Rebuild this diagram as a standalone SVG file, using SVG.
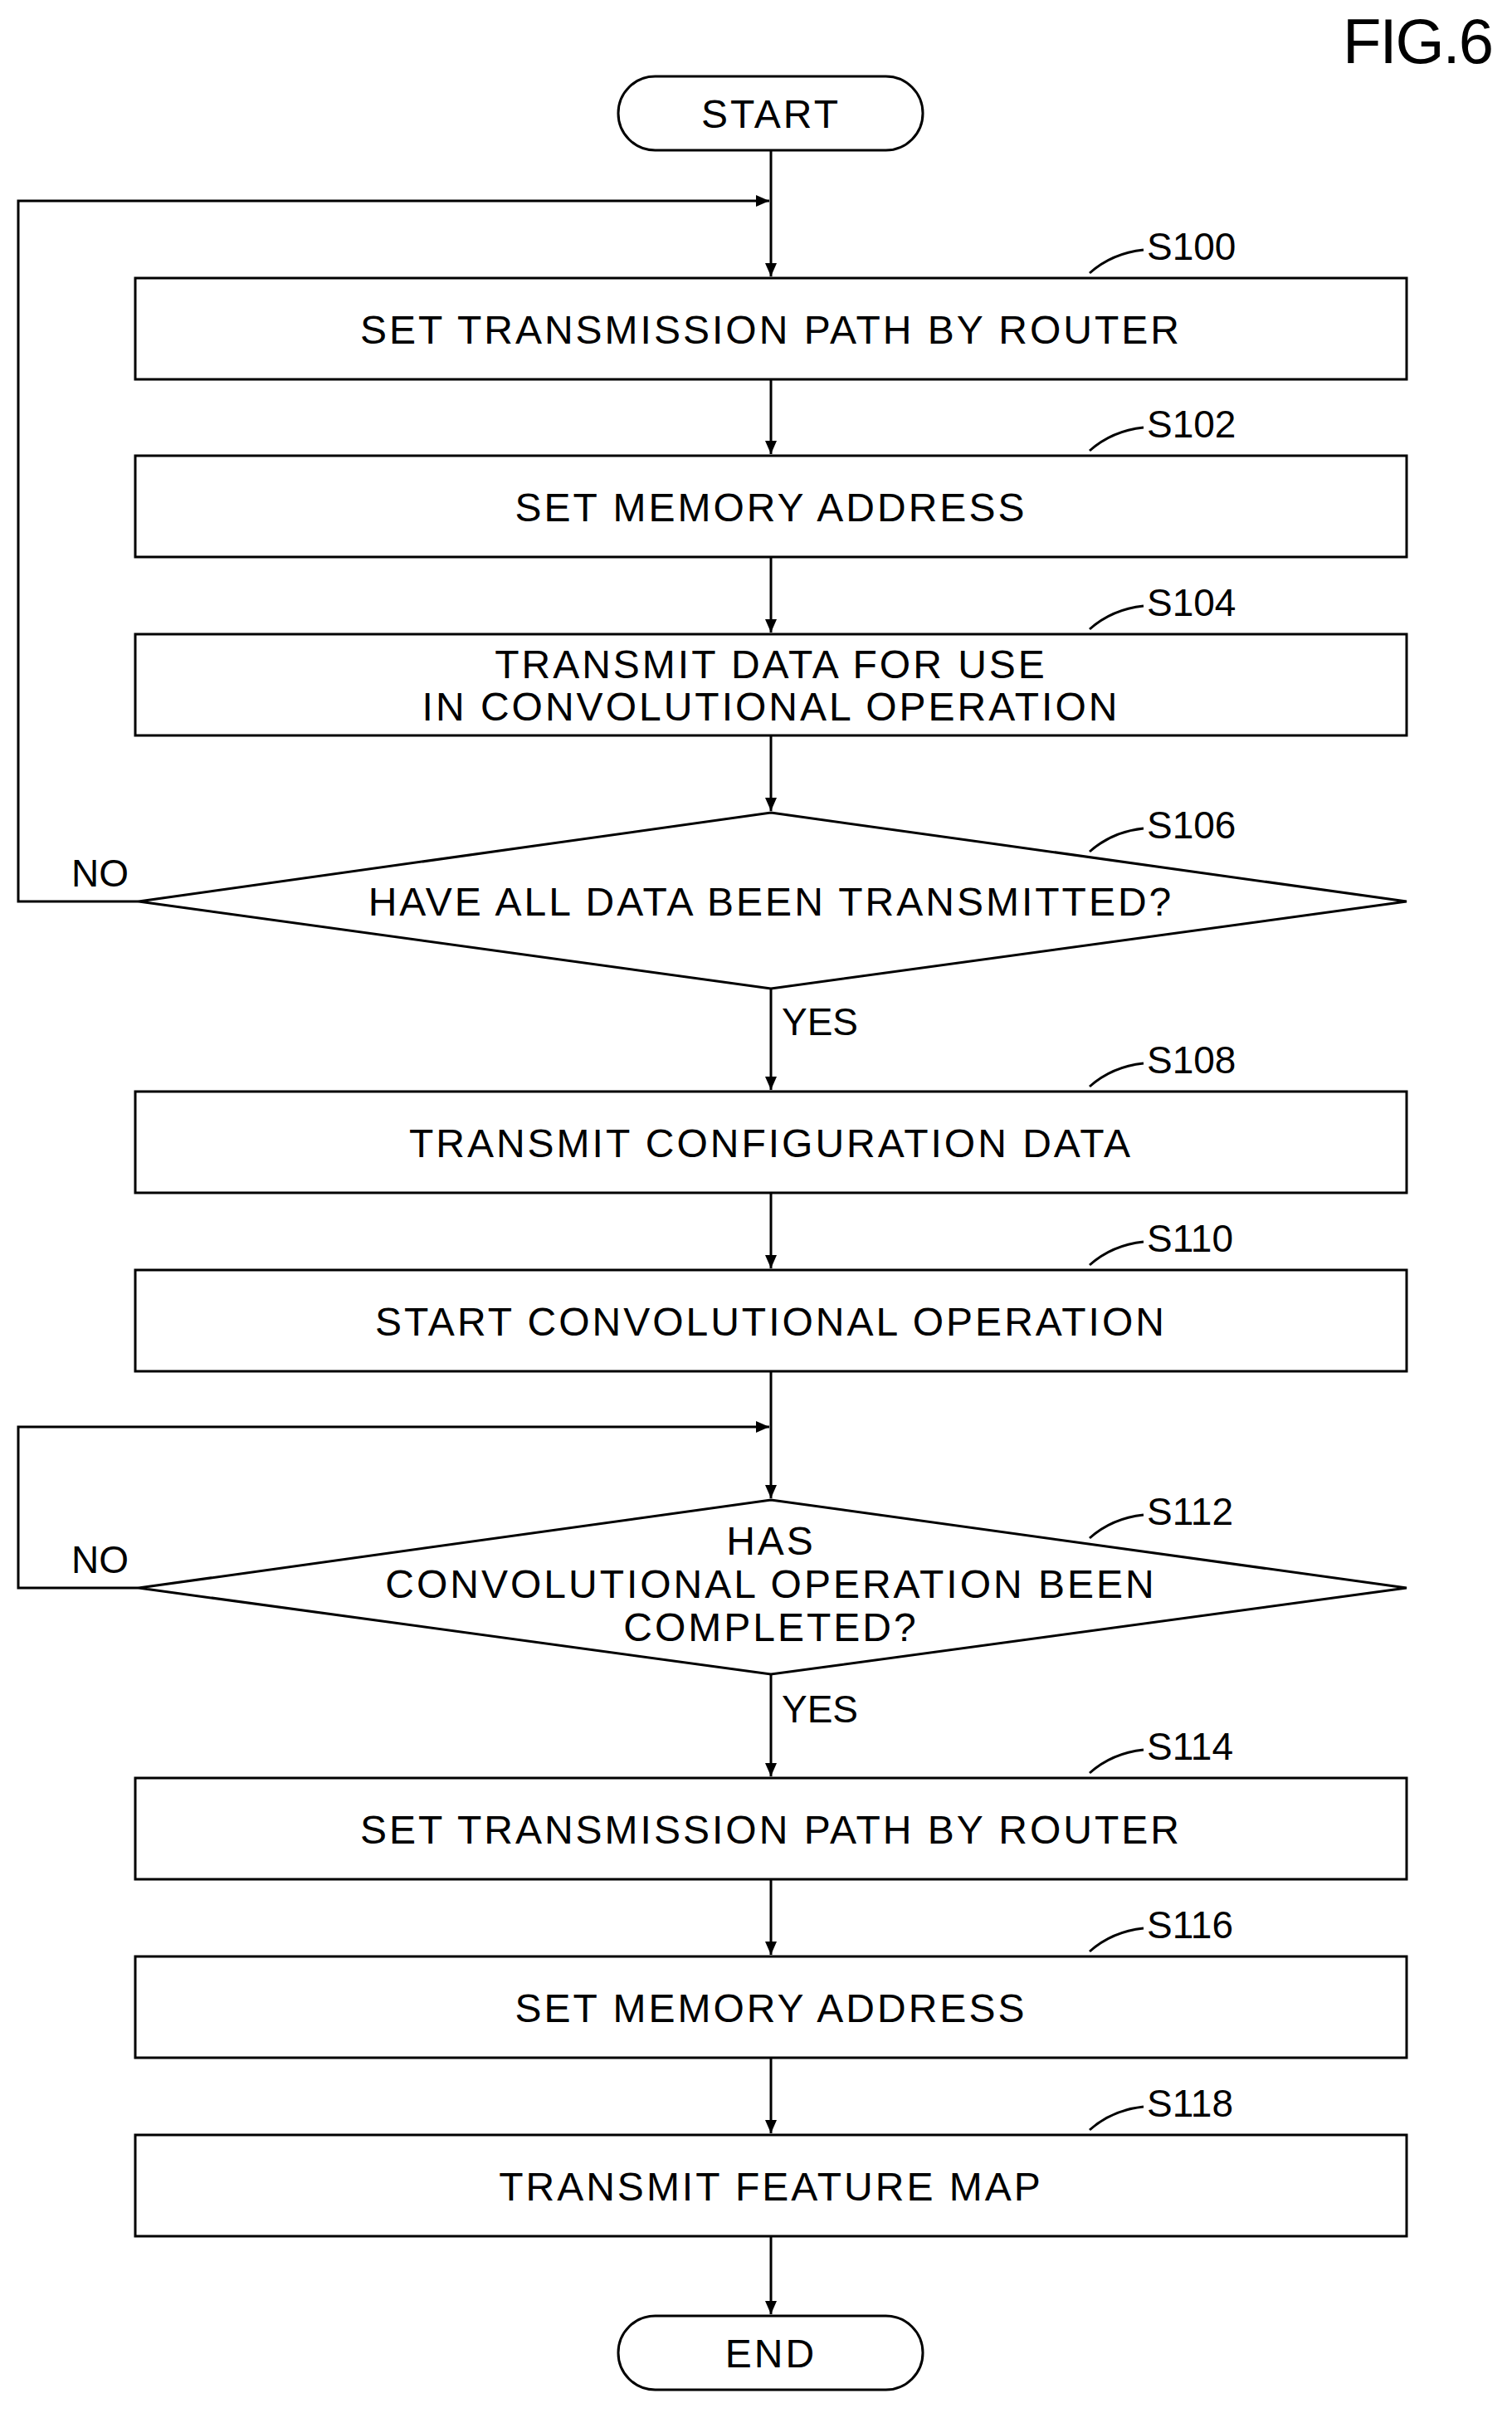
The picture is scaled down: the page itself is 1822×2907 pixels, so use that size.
<svg xmlns="http://www.w3.org/2000/svg" width="1822" height="2907" viewBox="0 0 1822 2907">
<defs>
<marker id="ah" markerWidth="16" markerHeight="14" refX="16" refY="7" orient="auto" markerUnits="userSpaceOnUse" viewBox="0 0 16 14"><path d="M0,0 L16,7 L0,14 z" fill="#000"/></marker>
<style>
.s{fill:#fff;stroke:#000;stroke-width:3}
.t{font-family:"Liberation Sans",Arial,sans-serif;font-size:48px;letter-spacing:3px;text-anchor:middle;fill:#000}
.l{font-family:"Liberation Sans",Arial,sans-serif;font-size:46px;fill:#000}
.c{fill:none;stroke:#000;stroke-width:3}
</style>
</defs>
<rect width="1822" height="2907" fill="#fff"/>
<text x="1798" y="76" class="l" style="font-size:76px;text-anchor:end;letter-spacing:-2px">FIG.6</text>
<g id="connectors">
<path class="c" d="M929,181 V333" marker-end="url(#ah)"/>
<path class="c" d="M929,457 V547" marker-end="url(#ah)"/>
<path class="c" d="M929,671 V762" marker-end="url(#ah)"/>
<path class="c" d="M929,886 V977" marker-end="url(#ah)"/>
<path class="c" d="M167,1086 H22 V242 H927" marker-end="url(#ah)"/>
<path class="c" d="M929,1191 V1313" marker-end="url(#ah)"/>
<path class="c" d="M929,1437 V1528" marker-end="url(#ah)"/>
<path class="c" d="M929,1652 V1805" marker-end="url(#ah)"/>
<path class="c" d="M167,1913 H22 V1719 H927" marker-end="url(#ah)"/>
<path class="c" d="M929,2017 V2140" marker-end="url(#ah)"/>
<path class="c" d="M929,2264 V2355" marker-end="url(#ah)"/>
<path class="c" d="M929,2479 V2570" marker-end="url(#ah)"/>
<path class="c" d="M929,2694 V2788" marker-end="url(#ah)"/>
<text x="86" y="1068" class="l">NO</text>
<text x="86" y="1895" class="l">NO</text>
<text x="942" y="1247" class="l">YES</text>
<text x="942" y="2075" class="l">YES</text>
</g>
<g id="start"><rect class="s" x="745" y="92" width="367" height="89" rx="44.5"/><text x="929" y="154" class="t">START</text></g>
<g id="s100"><rect class="s" x="163" y="335" width="1532" height="122"/><text x="929" y="414" class="t">SET TRANSMISSION PATH BY ROUTER</text>
<path class="c" d="M1313,329 Q1340,305 1378,301"/><text x="1382" y="313" class="l">S100</text></g>
<g id="s102"><rect class="s" x="163" y="549" width="1532" height="122"/><text x="929" y="628" class="t">SET MEMORY ADDRESS</text>
<path class="c" d="M1313,543 Q1340,519 1378,515"/><text x="1382" y="527" class="l">S102</text></g>
<g id="s104"><rect class="s" x="163" y="764" width="1532" height="122"/><text x="929" y="817" class="t">TRANSMIT DATA FOR USE</text><text x="929" y="868" class="t">IN CONVOLUTIONAL OPERATION</text>
<path class="c" d="M1313,758 Q1340,734 1378,730"/><text x="1382" y="742" class="l">S104</text></g>
<g id="s106"><polygon class="s" points="929,979 1695,1086 929,1191 167,1086"/><text x="929" y="1103" class="t">HAVE ALL DATA BEEN TRANSMITTED?</text>
<path class="c" d="M1313,1026 Q1340,1002 1378,998"/><text x="1382" y="1010" class="l">S106</text></g>
<g id="s108"><rect class="s" x="163" y="1315" width="1532" height="122"/><text x="929" y="1394" class="t">TRANSMIT CONFIGURATION DATA</text>
<path class="c" d="M1313,1309 Q1340,1285 1378,1281"/><text x="1382" y="1293" class="l">S108</text></g>
<g id="s110"><rect class="s" x="163" y="1530" width="1532" height="122"/><text x="929" y="1609" class="t">START CONVOLUTIONAL OPERATION</text>
<path class="c" d="M1313,1524 Q1340,1500 1378,1496"/><text x="1382" y="1508" class="l">S110</text></g>
<g id="s112"><polygon class="s" points="929,1807 1695,1913 929,2017 167,1913"/><text x="929" y="1873" class="t">HAS</text><text x="929" y="1925" class="t">CONVOLUTIONAL OPERATION BEEN</text><text x="929" y="1977" class="t">COMPLETED?</text>
<path class="c" d="M1313,1853 Q1340,1829 1378,1825"/><text x="1382" y="1837" class="l">S112</text></g>
<g id="s114"><rect class="s" x="163" y="2142" width="1532" height="122"/><text x="929" y="2221" class="t">SET TRANSMISSION PATH BY ROUTER</text>
<path class="c" d="M1313,2136 Q1340,2112 1378,2108"/><text x="1382" y="2120" class="l">S114</text></g>
<g id="s116"><rect class="s" x="163" y="2357" width="1532" height="122"/><text x="929" y="2436" class="t">SET MEMORY ADDRESS</text>
<path class="c" d="M1313,2351 Q1340,2327 1378,2323"/><text x="1382" y="2335" class="l">S116</text></g>
<g id="s118"><rect class="s" x="163" y="2572" width="1532" height="122"/><text x="929" y="2651" class="t">TRANSMIT FEATURE MAP</text>
<path class="c" d="M1313,2566 Q1340,2542 1378,2538"/><text x="1382" y="2550" class="l">S118</text></g>
<g id="end"><rect class="s" x="745" y="2790" width="367" height="89" rx="44.5"/><text x="929" y="2852" class="t">END</text></g>
</svg>
